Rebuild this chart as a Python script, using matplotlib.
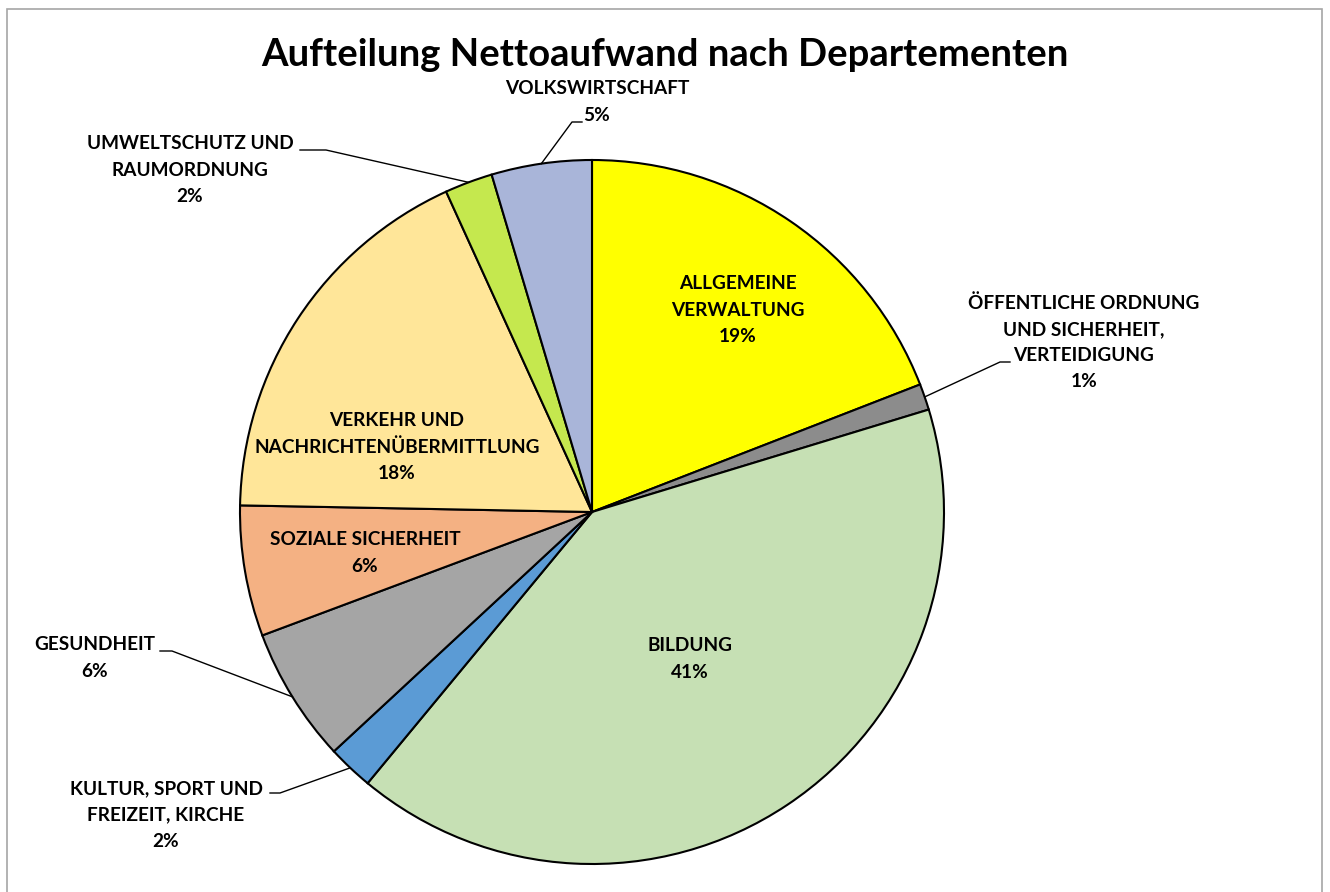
import numpy as np
import matplotlib
matplotlib.use("Agg")
from matplotlib import pyplot as plt
from matplotlib.patches import Rectangle

# data (share of net expenditure, percent)
departments = [
    "ALLGEMEINE\nVERWALTUNG",
    "ÖFFENTLICHE ORDNUNG\nUND SICHERHEIT,\nVERTEIDIGUNG",
    "BILDUNG",
    "KULTUR, SPORT UND\nFREIZEIT, KIRCHE",
    "GESUNDHEIT",
    "SOZIALE SICHERHEIT",
    "VERKEHR UND\nNACHRICHTENÜBERMITTLUNG",
    "UMWELTSCHUTZ UND\nRAUMORDNUNG",
    "VOLKSWIRTSCHAFT",
]
shares = [19.1, 1.2, 40.7, 2.1, 6.2, 6.0, 17.9, 2.2, 4.6]
colors = ["#FFFF00", "#8C8C8C", "#C6E0B4", "#5B9BD5", "#A5A5A5",
          "#F4B183", "#FFE699", "#C5E84E", "#A9B5D9"]

W, H = 1330, 892
fig = plt.figure(figsize=(W / 100, H / 100), dpi=100)
ax = fig.add_axes([0, 0, 1, 1])

plt.rcParams['font.family'] = ['Lato', 'DejaVu Sans']

cx, cy, r = 592, H - 512, 352
wedges, _ = ax.pie(shares, colors=colors, startangle=90, counterclock=False,
                   center=(cx, cy), radius=r, frame=True,
                   wedgeprops=dict(edgecolor="black", linewidth=1.5))
ax.set_xlim(0, W)
ax.set_ylim(0, H)
ax.set_aspect("equal")
ax.axis("off")

# chart frame
ax.add_patch(Rectangle((7, -10), 1315, H - 9 + 10, fill=False, ec="#A6A6A6", lw=1.2))

ax.text(665, H - 55, "Aufteilung Nettoaufwand nach Departementen",
        ha="center", va="center", fontsize=27.5, fontweight="bold")

# label placement (pixel coords from top), elbow of leader line or None
label_pos = [
    (738, 310, None),
    (1084, 342, (1000, 362, 1010)),
    (690, 659, None),
    (166, 815, (280, 793, 270)),
    (95, 658, (172, 651, 160)),
    (365, 553, None),
    (397, 447, None),
    (190, 170, (326, 150, 300)),
    (597, 102, (572, 122, 582)),
]

for w, name, v, (tx, ty, elbow) in zip(wedges, departments, shares, label_pos):
    txt = f"{name}\n{round(v):d}%"
    ax.text(tx, H - ty, txt, ha="center", va="center", fontsize=13.7,
            fontweight="bold", linespacing=1.65)
    if elbow is not None:
        mid = np.deg2rad((w.theta1 + w.theta2) / 2)
        x0 = cx + r * np.cos(mid)
        y0 = cy + r * np.sin(mid)
        ex, ey, ex2 = elbow
        ax.plot([x0, ex, ex2], [y0, H - ey, H - ey], color="black", lw=1)

fig.savefig("out.png", dpi=100)
